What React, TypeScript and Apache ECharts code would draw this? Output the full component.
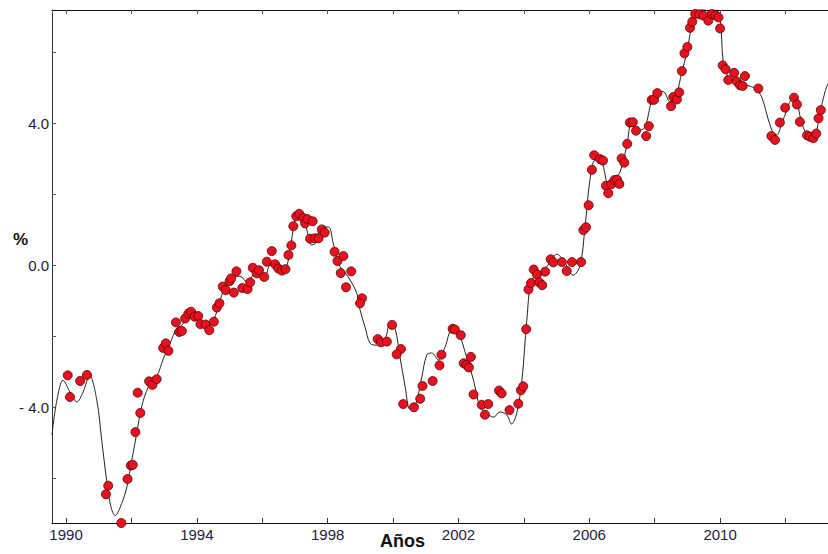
import React, { useEffect, useRef } from "react";
import * as echarts from "echarts";

// Observed points (year, %)
const pointYears = [
  1990.05, 1990.12, 1990.43, 1990.64, 1991.22, 1991.29, 1991.69, 1991.88, 1991.98, 1992.04,
  1992.12, 1992.19, 1992.27, 1992.54, 1992.64, 1992.77, 1992.97, 1993.05, 1993.13, 1993.36,
  1993.46, 1993.54, 1993.64, 1993.74, 1993.82, 1993.93, 1994.04, 1994.11, 1994.27, 1994.38,
  1994.52, 1994.61, 1994.69, 1994.79, 1994.88, 1995.0, 1995.05, 1995.13, 1995.21, 1995.39,
  1995.55, 1995.63, 1995.71, 1995.83, 1995.9, 1996.06, 1996.14, 1996.29, 1996.39, 1996.49,
  1996.6, 1996.71, 1996.8, 1996.89, 1996.95, 1997.04, 1997.13, 1997.26, 1997.31, 1997.38,
  1997.54, 1997.46, 1997.61, 1997.72, 1997.82, 1997.91, 1998.21, 1998.3, 1998.48, 1998.4,
  1998.72, 1998.56, 1999.05, 1998.99, 1999.53, 1999.63, 1999.81, 1999.97, 2000.24, 2000.11,
  2000.31, 2000.64, 2000.83, 2000.9, 2001.21, 2001.42, 2001.48, 2001.82, 2001.89, 2002.07,
  2002.38, 2002.16, 2002.25, 2002.32, 2002.46, 2002.71, 2002.91, 2002.81, 2003.24, 2003.32,
  2003.56, 2003.83, 2003.91, 2003.98, 2004.07, 2004.14, 2004.22, 2004.3, 2004.4, 2004.47,
  2004.56, 2004.65, 2004.82, 2004.9, 2005.16, 2005.31, 2005.47, 2005.75, 2005.82, 2005.9,
  2005.98, 2006.08, 2006.15, 2006.33, 2006.42, 2006.51, 2006.58, 2006.67, 2006.77, 2006.85,
  2006.92, 2006.99, 2007.07, 2007.16, 2007.24, 2007.33, 2007.43, 2007.74, 2007.82, 2007.91,
  2007.98, 2008.08, 2008.5, 2008.57, 2008.68, 2008.75, 2008.83, 2008.91, 2009.0, 2009.08,
  2009.15, 2009.24, 2009.37, 2009.49, 2009.64, 2009.75, 2009.86, 2009.95, 2010.0, 2010.08,
  2010.17, 2010.43, 2010.25, 2010.51, 2010.61, 2010.69, 2010.76, 2011.17, 2011.57, 2011.68,
  2011.83, 2011.99, 2012.26, 2012.35, 2012.44, 2012.66, 2012.75, 2012.85, 2012.94, 2013.01,
  2013.08,
];
const pointValues = [
  -3.09, -3.7, -3.25, -3.08, -6.44, -6.2, -7.25, -6.01, -5.63, -5.61,
  -4.69, -3.58, -4.15, -3.26, -3.36, -3.2, -2.32, -2.19, -2.4, -1.6,
  -1.87, -1.84, -1.49, -1.35, -1.3, -1.44, -1.42, -1.65, -1.66, -1.82,
  -1.58, -1.18, -1.06, -0.59, -0.69, -0.44, -0.36, -0.76, -0.16, -0.63,
  -0.66, -0.47, -0.06, -0.22, -0.13, -0.32, 0.11, 0.41, 0.04, -0.08,
  -0.14, -0.1, 0.3, 0.57, 1.11, 1.39, 1.46, 1.34, 1.19, 1.31,
  1.25, 0.76, 0.77, 0.77, 1.02, 0.93, 0.39, 0.13, 0.27, -0.21,
  -0.16, -0.61, -0.92, -1.06, -2.07, -2.16, -2.14, -1.67, -2.35, -2.5,
  -3.9, -3.99, -3.75, -3.39, -3.25, -2.81, -2.51, -1.78, -1.8, -1.96,
  -2.57, -2.75, -2.8, -2.87, -3.63, -3.92, -3.9, -4.2, -3.52, -3.6,
  -4.07, -3.89, -3.51, -3.4, -1.79, -0.67, -0.49, -0.11, -0.25, -0.47,
  -0.55, -0.17, 0.18, 0.09, 0.1, -0.15, 0.1, 0.1, 1.0, 1.08,
  1.7, 2.7, 3.11, 3.0, 2.96, 2.25, 2.04, 2.29, 2.41, 2.42,
  2.3, 3.02, 2.9, 3.43, 4.03, 4.04, 3.8, 3.65, 3.93, 4.67,
  4.67, 4.86, 4.49, 4.75, 4.68, 4.88, 5.48, 5.98, 6.16, 6.7,
  6.87, 7.09, 7.08, 7.04, 6.9, 7.09, 7.05, 6.99, 6.68, 5.64,
  5.53, 5.43, 5.23, 5.19, 5.08, 5.06, 5.34, 4.99, 3.65, 3.54,
  4.03, 4.45, 4.73, 4.54, 4.05, 3.67, 3.63, 3.59, 3.72, 4.15,
  4.38,
];

// Smoothed trend curve (year, %)
const curveYears = [
  1989.57, 1989.72, 1989.91, 1990.12, 1990.33, 1990.52, 1990.72, 1990.94, 1991.09, 1991.24,
  1991.37, 1991.5, 1991.7, 1991.86, 1992.01, 1992.16, 1992.31, 1992.52, 1992.77, 1992.98,
  1993.18, 1993.39, 1993.54, 1993.74, 1993.85, 1994.04, 1994.25, 1994.5, 1994.71, 1994.91,
  1995.12, 1995.32, 1995.53, 1995.83, 1996.09, 1996.24, 1996.54, 1996.73, 1996.85, 1997.0,
  1997.13, 1997.31, 1997.51, 1997.67, 1997.77, 1998.02, 1998.17, 1998.38, 1998.63, 1998.89,
  1998.99, 1999.14, 1999.3, 1999.5, 1999.76, 1999.91, 2000.06, 2000.21, 2000.37, 2000.52,
  2000.67, 2000.88, 2001.03, 2001.18, 2001.39, 2001.59, 2001.8, 2002.0, 2002.2, 2002.46,
  2002.66, 2002.87, 2003.07, 2003.27, 2003.48, 2003.62, 2003.78, 2003.94, 2004.09, 2004.24,
  2004.5, 2004.7, 2005.01, 2005.21, 2005.51, 2005.72, 2005.87, 2006.02, 2006.18, 2006.38,
  2006.58, 2006.74, 2006.94, 2007.15, 2007.3, 2007.56, 2007.71, 2007.91, 2008.06, 2008.26,
  2008.47, 2008.67, 2008.83, 2008.98, 2009.13, 2009.29, 2009.49, 2009.7, 2009.88, 2010.0,
  2010.1, 2010.25, 2010.51, 2010.82, 2011.07, 2011.27, 2011.48, 2011.63, 2011.73, 2011.89,
  2012.04, 2012.19, 2012.32, 2012.45, 2012.6, 2012.75, 2012.91, 2013.06, 2013.21, 2013.3,
];
const curveValues = [
  -4.77, -3.79, -3.23, -3.56, -3.84, -3.56, -3.1, -3.79, -4.92, -6.04,
  -6.79, -7.04, -6.7, -6.23, -5.48, -4.73, -3.98, -3.41, -3.13, -2.61,
  -2.19, -1.76, -1.68, -1.39, -1.2, -1.39, -1.63, -1.54, -0.97, -0.5,
  -0.3, -0.3, -0.46, -0.17, -0.27, 0.01, -0.08, -0.03, 0.44, 1.28,
  1.47, 1.19, 0.58, 0.67, 1.09, 1.09, 0.63, -0.03, -0.32, -0.78,
  -1.25, -1.72, -2.19, -2.24, -2.05, -1.61, -1.77, -2.57, -3.41, -4.05,
  -3.98, -3.13, -2.52, -2.46, -2.66, -2.29, -1.82, -1.91, -2.43, -3.23,
  -3.98, -4.16, -4.27, -4.12, -4.21, -4.46, -4.16, -3.23, -1.54, -0.41,
  -0.22, -0.03, 0.32, 0.15, -0.27, 0.01, 1.09, 2.41, 2.97, 2.92,
  2.32, 2.41, 2.64, 3.39, 4.01, 3.82, 3.91, 4.66, 4.9, 4.9,
  4.61, 4.85, 5.46, 5.98, 6.73, 7.1, 7.22, 7.14, 7.2, 7.01,
  5.7, 5.32, 5.18, 5.08, 4.99, 4.75, 4.1, 3.72, 3.68, 4.01,
  4.38, 4.66, 4.66, 4.19, 3.77, 3.61, 3.68, 4.33, 4.9, 5.13,
];

const X_MIN = 1989.57;
const X_MAX = 2013.3;
const Y_MIN = -7.25;
const Y_MAX = 7.2;

const labelColor = "#1c1c44";

export default function App() {
  const ref = useRef<HTMLDivElement>(null);
  useEffect(() => {
    document.body.style.margin = "0";
    const chart = echarts.init(ref.current!, null, { renderer: "svg" });
    const points = pointYears.map((x, i) => [x, pointValues[i]]);
    const curve = curveYears.map((x, i) => [x, curveValues[i]]);
    const xLabel = (v: number) => {
      const r = Math.round(v);
      if (Math.abs(v - r) > 1e-6) return "";
      return (r - 1990) % 4 === 0 ? String(r) : "";
    };
    const yLabel = (v: number) => {
      const r = Math.round(v);
      if (Math.abs(v - r) > 1e-6 || r % 4 !== 0) return "";
      return r < 0 ? "- " + Math.abs(r).toFixed(1) : r.toFixed(1);
    };
    chart.setOption({
      animation: false,
      backgroundColor: "#ffffff",
      grid: { left: 52, top: 10, right: 0, bottom: 31, containLabel: false },
      xAxis: [
        {
          type: "value",
          position: "bottom",
          min: X_MIN,
          max: X_MAX,
          splitNumber: 12,
          minInterval: 2,
          maxInterval: 2,
          axisLine: { show: true, onZero: false, lineStyle: { color: "#111", width: 1.2 } },
          axisTick: { show: true, inside: true, length: 5, lineStyle: { color: "#333" } },
          axisLabel: {
            formatter: xLabel,
            color: labelColor,
            fontSize: 15,
            fontFamily: "Liberation Sans, Arial",
            margin: 4,
            showMinLabel: false,
            showMaxLabel: false,
          },
          splitLine: { show: false },
        },
        {
          type: "value",
          position: "top",
          min: X_MIN,
          max: X_MAX,
          splitNumber: 12,
          minInterval: 2,
          maxInterval: 2,
          axisLine: { show: true, onZero: false, lineStyle: { color: "#111", width: 1.2 } },
          axisTick: { show: true, inside: true, length: 4, lineStyle: { color: "#555" } },
          axisLabel: { show: false },
          splitLine: { show: false },
        },
      ],
      yAxis: {
        type: "value",
        min: Y_MIN,
        max: Y_MAX,
        splitNumber: 7,
        minInterval: 2,
        maxInterval: 2,
        axisLine: { show: true, onZero: false, lineStyle: { color: "#333", width: 1 } },
        axisTick: { show: true, inside: true, length: 4, lineStyle: { color: "#555" } },
        axisLabel: {
          formatter: yLabel,
          color: labelColor,
          fontSize: 15,
          fontFamily: "Liberation Sans, Arial",
          margin: 3,
          showMinLabel: false,
          showMaxLabel: false,
        },
        splitLine: { show: false },
      },
      graphic: [
        {
          type: "text",
          left: 13,
          top: 231,
          style: {
            text: "%",
            font: "bold 17px 'Liberation Sans', Arial",
            fill: "#111",
          },
        },
        {
          type: "text",
          left: 380,
          top: 532,
          style: {
            text: "Años",
            font: "bold 18px 'Liberation Sans', Arial",
            fill: "#111",
          },
        },
      ],
      series: [
        {
          type: "line",
          data: curve,
          smooth: 0.35,
          showSymbol: false,
          symbol: "none",
          lineStyle: { color: "#222", width: 1 },
          z: 2,
          silent: true,
        },
        {
          type: "scatter",
          data: points,
          symbolSize: 9,
          clip: false,
          itemStyle: { color: "#ec0f1e", opacity: 1, borderColor: "#4a0808", borderWidth: 0.8 },
          z: 3,
        },
      ],
    });
    return () => chart.dispose();
  }, []);
  return <div ref={ref} style={{ width: 828, height: 554 }} />;
}
